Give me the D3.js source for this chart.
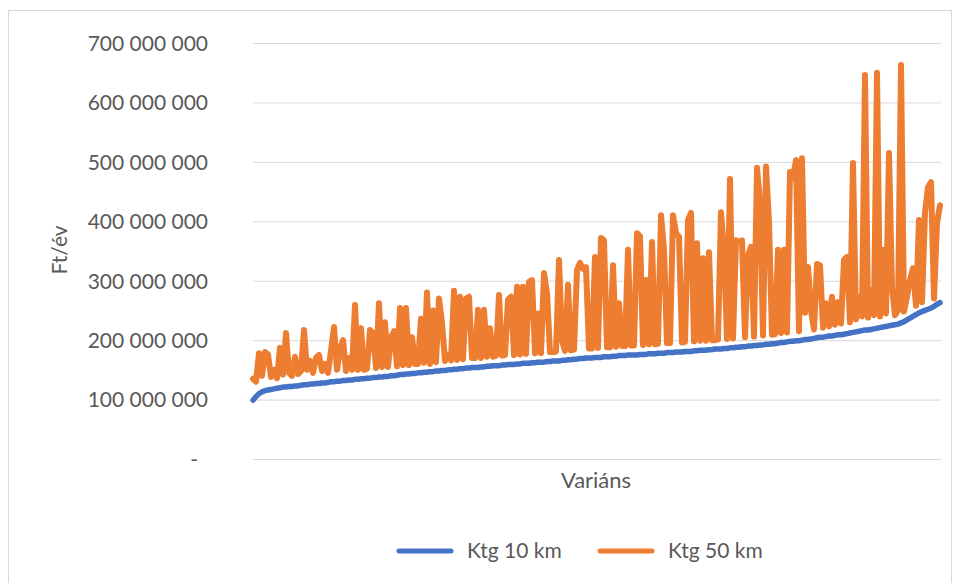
<!DOCTYPE html>
<html>
<head>
<meta charset="utf-8">
<script src="https://cdn.jsdelivr.net/npm/d3@7"></script>
<style>
  html, body { margin: 0; padding: 0; background: #ffffff; }
  svg { display: block; }
  text { font-family: Lato, "Open Sans", sans-serif; fill: #595959; }
</style>
</head>
<body>
<svg id="chart" width="959" height="583"></svg>
<script>
// Values in millions of Ft/év
const seriesNames = ["Ktg 10 km", "Ktg 50 km"];
const ktg10 = [
  99,105,110,113,115,116,117,118,119,120,
  121,121,122,122,123,123,124,125,125,126,
  126,127,127,128,128,129,130,130,131,131,
  132,132,133,133,134,134,135,135,136,136,
  137,137,138,138,139,139,140,140,141,142,
  142,143,143,144,144,145,145,146,146,147,
  147,148,148,149,149,150,150,151,151,152,
  152,153,153,154,154,154,155,155,156,156,
  157,157,157,158,158,159,159,159,160,160,
  161,161,161,162,162,163,163,163,164,164,
  165,165,165,166,166,167,167,168,168,169,
  169,170,170,170,171,171,171,172,172,172,
  173,173,174,174,174,175,175,175,175,176,
  176,176,177,177,177,178,178,178,179,179,
  179,180,180,180,181,181,181,182,182,183,
  183,183,184,184,185,185,185,186,186,187,
  187,188,188,189,189,190,190,191,191,192,
  192,193,193,194,194,195,196,196,197,198,
  198,199,199,200,201,201,202,203,204,205,
  205,206,207,207,208,209,209,210,211,212,
  213,214,215,216,217,217,218,219,220,221,
  222,223,224,225,226,227,229,231,234,237,
  240,243,246,248,250,252,254,257,260,263
];
const ktg50 = [
  135,130,178,140,180,176,138,150,136,187,142,212,145,140,172,143,
  148,217,150,165,145,170,175,148,160,145,182,222,150,185,200,148,170,
  150,259,150,220,150,152,217,212,153,262,155,230,155,205,215,156,254,
  158,254,158,205,160,160,236,162,280,160,250,163,270,229,165,175,166,283,
  167,273,168,270,273,170,170,251,170,251,172,220,172,174,276,
  174,175,268,273,175,290,176,290,177,298,301,178,245,178,313,279,180,
  180,181,335,200,182,293,183,184,318,330,320,323,186,186,340,187,
  372,368,188,188,326,189,262,190,190,352,191,191,380,375,192,301,193,
  365,193,194,410,352,195,195,410,380,374,196,197,402,414,198,363,199,
  338,199,348,200,200,201,415,352,202,471,203,368,365,368,205,343,
  357,206,490,431,208,492,399,209,210,352,212,352,213,483,473,503,215,506,
  246,323,250,218,328,326,221,262,223,273,226,264,228,335,340,230,
  498,235,273,240,646,238,284,242,650,240,352,245,515,289,242,250,663,
  248,273,301,321,258,402,264,415,457,466,270,397,427
];
const yTickValues = [0,100,200,300,400,500,600,700];
const yTickLabels = ["-","100 000 000","200 000 000","300 000 000","400 000 000","500 000 000","600 000 000","700 000 000"];
const colors = ["#4472C4", "#ED7D31"];
const yTitle = "Ft/év";
const xTitle = "Variáns";

const svg = d3.select("#chart");

// outer chart border
svg.append("rect")
  .attr("x", 8.5).attr("y", 10.5).attr("width", 943).attr("height", 590)
  .attr("fill", "none").attr("stroke", "#d9d9d9").attr("stroke-width", 1);

const plot = { left: 253, right: 941, top: 43, bottom: 459 };

const x = d3.scaleLinear().domain([0, ktg50.length - 1]).range([plot.left, plot.right - 1]);
const y = d3.scaleLinear().domain([0, 700]).range([plot.bottom, plot.top]);

// gridlines
const grid = svg.append("g")
  .attr("transform", `translate(${plot.left},0)`)
  .call(d3.axisLeft(y).tickValues(yTickValues).tickSize(-(plot.right - plot.left)).tickFormat(""));
grid.select(".domain").remove();
grid.selectAll("line").attr("stroke", "#d9d9d9").attr("stroke-width", 1);

// y axis labels
const yAxis = svg.append("g")
  .attr("transform", `translate(${plot.left - 45},0)`)
  .call(d3.axisLeft(y).tickValues(yTickValues).tickSize(0).tickPadding(0)
    .tickFormat((d, i) => yTickLabels[i]));
yAxis.select(".domain").remove();
yAxis.selectAll("text")
  .style("font-family", "Lato, 'Open Sans', sans-serif")
  .style("font-size", "21px")
  .attr("fill", "#595959")
  .attr("dy", "0.35em");
yAxis.selectAll(".tick").filter((d) => d === 0).select("text").attr("x", -10);

// axis titles
svg.append("text")
  .attr("transform", "translate(67,250) rotate(-90)")
  .attr("text-anchor", "middle")
  .style("font-size", "21px")
  .text(yTitle);

svg.append("text")
  .attr("x", 596).attr("y", 488)
  .attr("text-anchor", "middle")
  .style("font-size", "22px")
  .text(xTitle);

// lines
const line = d3.line().x((d, i) => x(i)).y(d => y(d));
svg.append("path")
  .datum(ktg10)
  .attr("d", line)
  .attr("fill", "none")
  .attr("stroke", colors[0])
  .attr("stroke-width", 5.5)
  .attr("stroke-linejoin", "round")
  .attr("stroke-linecap", "round");

svg.append("path")
  .datum(ktg50)
  .attr("d", line)
  .attr("fill", "none")
  .attr("stroke", colors[1])
  .attr("stroke-width", 6)
  .attr("stroke-linejoin", "round")
  .attr("stroke-linecap", "round");

// legend
const legend = svg.append("g");
const legendItems = [
  { name: seriesNames[0], color: colors[0], x0: 399 },
  { name: seriesNames[1], color: colors[1], x0: 600 }
];
legendItems.forEach(item => {
  legend.append("line")
    .attr("x1", item.x0).attr("x2", item.x0 + 52)
    .attr("y1", 551).attr("y2", 551)
    .attr("stroke", item.color).attr("stroke-width", 5)
    .attr("stroke-linecap", "round");
  legend.append("text")
    .attr("x", item.x0 + 68).attr("y", 551)
    .attr("dy", "0.35em")
    .style("font-size", "21px")
    .text(item.name);
});
</script>
</body>
</html>
